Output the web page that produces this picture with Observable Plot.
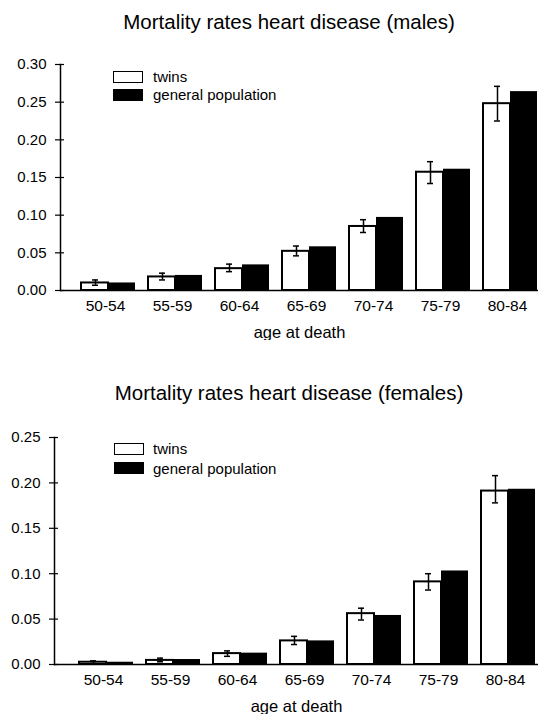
<!DOCTYPE html>
<html>
<head>
<meta charset="utf-8">
<script src="https://cdn.jsdelivr.net/npm/d3@7"></script>
<script src="https://cdn.jsdelivr.net/npm/@observablehq/plot@0.6"></script>
<style>
html, body { margin: 0; padding: 0; background: #fff; overflow: hidden; }
#page { position: relative; width: 538px; height: 716px; font-family: "Liberation Sans", Arial, Helvetica, sans-serif; color: #000; }
.title { position: absolute; white-space: nowrap; font-size: 20.5px; line-height: 24px; transform: translateX(-50%); }
.chart { position: absolute; left: 0; }
.legend-text { position: absolute; font-size: 15px; line-height: 18px; white-space: nowrap; }
.swatch { position: absolute; box-sizing: border-box; border: 1.5px solid #000; }
</style>
</head>
<body>
<div id="page"></div>
<script>
// ---- data ----
const ageGroups = ["50-54", "55-59", "60-64", "65-69", "70-74", "75-79", "80-84"];
const seriesLabels = ["twins", "general population"];
const axisLabel = "age at death";
const titles = ["Mortality rates heart disease (males)", "Mortality rates heart disease (females)"];

const malesTwins   = [0.010, 0.018, 0.029, 0.052, 0.085, 0.157, 0.248];
const malesGeneral = [0.010, 0.020, 0.034, 0.058, 0.097, 0.161, 0.264];
const malesLow     = [0.007, 0.014, 0.025, 0.046, 0.077, 0.142, 0.225];
const malesHigh    = [0.014, 0.023, 0.035, 0.059, 0.094, 0.171, 0.271];
const malesTicks   = [0, 0.05, 0.10, 0.15, 0.20, 0.25, 0.30];

const femalesTwins   = [0.0025, 0.0045, 0.012, 0.026, 0.056, 0.091, 0.191];
const femalesGeneral = [0.0025, 0.0055, 0.0125, 0.026, 0.054, 0.103, 0.193];
const femalesLow     = [0.001, 0.003, 0.009, 0.022, 0.049, 0.082, 0.178];
const femalesHigh    = [0.004, 0.007, 0.015, 0.031, 0.062, 0.100, 0.208];
const femalesTicks   = [0, 0.05, 0.10, 0.15, 0.20, 0.25];

const page = document.getElementById("page");
const FONT = '"Liberation Sans", Arial, Helvetica, sans-serif';

function addTitle(text, top, centerX) {
  const d = document.createElement("div");
  d.className = "title";
  d.textContent = text;
  d.style.top = top + "px";
  d.style.left = centerX + "px";
  page.appendChild(d);
}

function addLegend(left, tops, textLeft, textTops) {
  const fills = ["#fff", "#000"];
  seriesLabels.forEach((lab, i) => {
    const s = document.createElement("div");
    s.className = "swatch";
    s.style.left = left + "px";
    s.style.top = tops[i] + "px";
    s.style.width = "30px";
    s.style.height = "12px";
    s.style.background = fills[i];
    page.appendChild(s);
    const t = document.createElement("div");
    t.className = "legend-text";
    t.textContent = lab;
    t.style.left = textLeft + "px";
    t.style.top = textTops[i] + "px";
    page.appendChild(t);
  });
}

function makeChart(opts) {
  const rows = ageGroups.map((age, i) => ({
    age, twins: opts.twins[i], general: opts.general[i], low: opts.low[i], high: opts.high[i]
  }));
  const chart = Plot.plot({
    width: 538,
    height: opts.height,
    marginLeft: opts.marginLeft,
    marginRight: 0,
    marginTop: opts.marginTop,
    marginBottom: opts.marginBottom,
    style: { fontFamily: FONT, fontSize: "15px", color: "#000", background: "#fff" },
    x: { domain: ageGroups, range: opts.xRange, paddingInner: 0.2, paddingOuter: 0 },
    y: { domain: [0, opts.yMax] },
    marks: [
      Plot.barY(rows, { x: "age", y: "general", fill: "#000", insetLeft: 27 }),
      Plot.barY(rows, { x: "age", y: "twins", fill: "#fff", stroke: "#000", strokeWidth: 2, insetRight: 27 }),
      Plot.ruleX(rows, { x: "age", y1: "low", y2: "high", dx: -13, stroke: "#000", strokeWidth: 1.5 }),
      Plot.tickY(rows, { x: "age", y: "low", insetLeft: 11, insetRight: 37, stroke: "#000", strokeWidth: 1.5 }),
      Plot.tickY(rows, { x: "age", y: "high", insetLeft: 11, insetRight: 37, stroke: "#000", strokeWidth: 1.5 }),
      Plot.ruleY([0], { stroke: "#000", strokeWidth: 1.5 }),
      Plot.frame({ anchor: "left", stroke: "#000", strokeWidth: 1.5 }),
      Plot.axisY({ ticks: opts.ticks, tickSize: 0, tickPadding: 14, tickFormat: d3.format(".2f"), label: null, fontSize: 15 }),
      Plot.axisY({ ticks: opts.ticks, tickSize: 9, dx: 4, tickFormat: () => "", label: null, strokeWidth: 1.2 }),
      Plot.axisX({ tickSize: 0, tickPadding: 9, label: null, fontSize: 15.5, dx: -3 }),
      Plot.axisX({ tickSize: 0, tickFormat: () => "", label: axisLabel, labelAnchor: "center", fontSize: 16.5 })
    ]
  });
  chart.classList.add("chart");
  chart.style.top = opts.top + "px";
  page.appendChild(chart);
}

// Males
addTitle(titles[0], 10, 289);
makeChart({
  top: 40, height: 300, marginLeft: 60, marginTop: 24, marginBottom: 50,
  xRange: [80, 538], yMax: 0.30, ticks: malesTicks,
  twins: malesTwins, general: malesGeneral, low: malesLow, high: malesHigh
});
addLegend(113, [71, 89], 153, [68, 86]);

// Females
addTitle(titles[1], 381, 289);
makeChart({
  top: 410, height: 304, marginLeft: 54, marginTop: 27, marginBottom: 50,
  xRange: [76, 537], yMax: 0.25, ticks: femalesTicks,
  twins: femalesTwins, general: femalesGeneral, low: femalesLow, high: femalesHigh
});
addLegend(114, [443, 462], 153, [440, 460]);
</script>
</body>
</html>
